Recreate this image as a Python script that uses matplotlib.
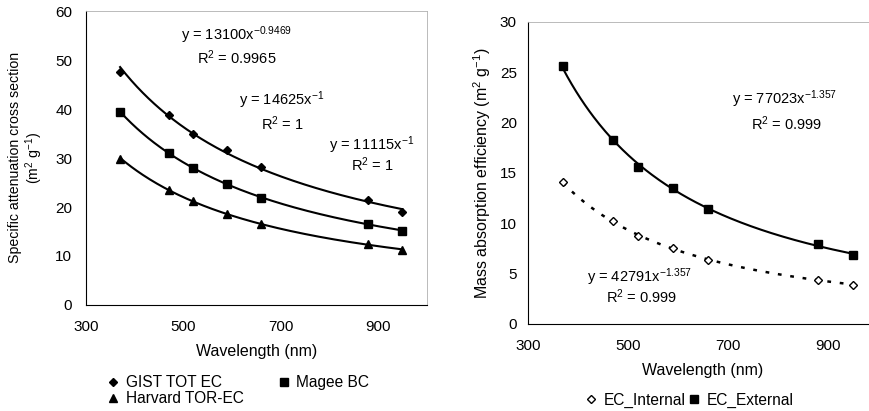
import numpy as np
import matplotlib
matplotlib.use("Agg")
import matplotlib.pyplot as plt

# data
wl = [370, 470, 520, 590, 660, 880, 950]
gist = [47.6, 38.7, 35.0, 31.7, 28.1, 21.4, 18.9]
magee = [39.4, 31.1, 28.0, 24.6, 21.9, 16.5, 15.2]
harvard = [29.9, 23.4, 21.2, 18.6, 16.6, 12.4, 11.2]
ec_ext = [25.6, 18.3, 15.6, 13.5, 11.4, 7.9, 6.9]
ec_int = [14.1, 10.2, 8.7, 7.5, 6.4, 4.4, 3.9]

plt.rcParams['font.family'] = ['Liberation Sans', 'DejaVu Sans']
plt.rcParams['mathtext.fontset'] = 'custom'
plt.rcParams['mathtext.rm'] = 'Liberation Sans'
plt.rcParams['mathtext.default'] = 'regular'
plt.rcParams['font.size'] = 11


def power_fit(x, y):
    # least squares in log space, like an Excel power trendline
    b, a = np.polyfit(np.log(x), np.log(y), 1)
    xs = np.linspace(min(x), max(x), 200)
    return xs, np.exp(a) * xs ** b


def style(ax, ymax, ystep, ypad):
    ax.set_xlim(300, 1000)
    ax.set_ylim(0, ymax)
    ax.set_xticks([300, 500, 700, 900])
    ax.set_yticks(np.arange(0, ymax + 1, ystep))
    ax.tick_params(axis='x', length=0, pad=11, labelsize=11)
    ax.tick_params(axis='y', length=0, pad=ypad, labelsize=11)
    for s in ['top', 'right']:
        ax.spines[s].set_color('#b0b0b0')
        ax.spines[s].set_linewidth(0.6)
    for s in ['left', 'bottom']:
        ax.spines[s].set_linewidth(0.8)
    ax.set_xlabel('Wavelength (nm)', fontsize=11.5, labelpad=7)


fig = plt.figure(figsize=(8.69, 4.11), dpi=100)

# left panel
ax1 = fig.add_axes([0.099, 0.258, 0.392, 0.715])
style(ax1, 60, 10, 10)
h1, = ax1.plot(wl, gist, 'kD', ms=4.5, label='GIST TOT EC')
h2, = ax1.plot(wl, magee, 'ks', ms=6, label='Magee BC')
h3, = ax1.plot(wl, harvard, 'k^', ms=6, label='Harvard TOR-EC')
for y in (gist, magee, harvard):
    xs, ys = power_fit(wl, y)
    ax1.plot(xs, ys, 'k-', lw=1.5)
# two-line y label, placed line by line
fig.text(0.017, 0.616, 'Specific attenuation cross section', rotation=90,
         ha='center', va='center', fontsize=10.2)
fig.text(0.039, 0.616, '(m$^2$ g$^{-1}$)', rotation=90,
         ha='center', va='center', fontsize=10.2)
ax1.text(610, 55.1, 'y = 13100x$^{-0.9469}$', ha='center', va='center', fontsize=10.5)
ax1.text(610, 50.4, 'R$^2$ = 0.9965', ha='center', va='center', fontsize=10.5)
ax1.text(702, 41.8, 'y = 14625x$^{-1}$', ha='center', va='center', fontsize=10.5)
ax1.text(704, 37.1, 'R$^2$ = 1', ha='center', va='center', fontsize=10.5)
ax1.text(887, 32.7, 'y = 11115x$^{-1}$', ha='center', va='center', fontsize=10.5)
ax1.text(889, 28.6, 'R$^2$ = 1', ha='center', va='center', fontsize=10.5)
fig.legend([h1, h3, h2], ['GIST TOT EC', 'Harvard TOR-EC', 'Magee BC'], ncol=2,
           loc='upper left', bbox_to_anchor=(0.114, 0.106), frameon=False,
           handlelength=0.8, handletextpad=0.4, columnspacing=2.2, labelspacing=0.05,
           borderpad=0, fontsize=11.2)

# right panel
ax2 = fig.add_axes([0.6076, 0.2117, 0.4028, 0.7348])
style(ax2, 30, 5, 8)
xs, ys = power_fit(wl, ec_ext)
ax2.plot(xs, ys, 'k-', lw=1.5)
xs, ys = power_fit(wl, ec_int)
ax2.plot(xs, ys, 'k--', lw=1.8, dashes=(1.5, 3.5))
g1, = ax2.plot(wl, ec_int, 'D', ms=4.5, mfc='white', mec='black', mew=1, label='EC_Internal')
g2, = ax2.plot(wl, ec_ext, 's', ms=6, color='black', label='EC_External')
ax2.set_ylabel('Mass absorption efficiency (m$^2$ g$^{-1}$)', fontsize=11.5, labelpad=5)
ax2.text(814, 22.3, 'y = 77023x$^{-1.357}$', ha='center', va='center', fontsize=10.5)
ax2.text(818, 19.9, 'R$^2$ = 0.999', ha='center', va='center', fontsize=10.5)
ax2.text(524, 4.67, 'y = 42791x$^{-1.357}$', ha='center', va='center', fontsize=10.5)
ax2.text(528, 2.68, 'R$^2$ = 0.999', ha='center', va='center', fontsize=10.5)
fig.legend([g1, g2], ['EC_Internal', 'EC_External'], ncol=2,
           loc='upper left', bbox_to_anchor=(0.664, 0.064), frameon=False,
           handlelength=0.8, handletextpad=0.4, columnspacing=0.15,
           borderpad=0, fontsize=11.2)

fig.savefig('out.png', dpi=100)
